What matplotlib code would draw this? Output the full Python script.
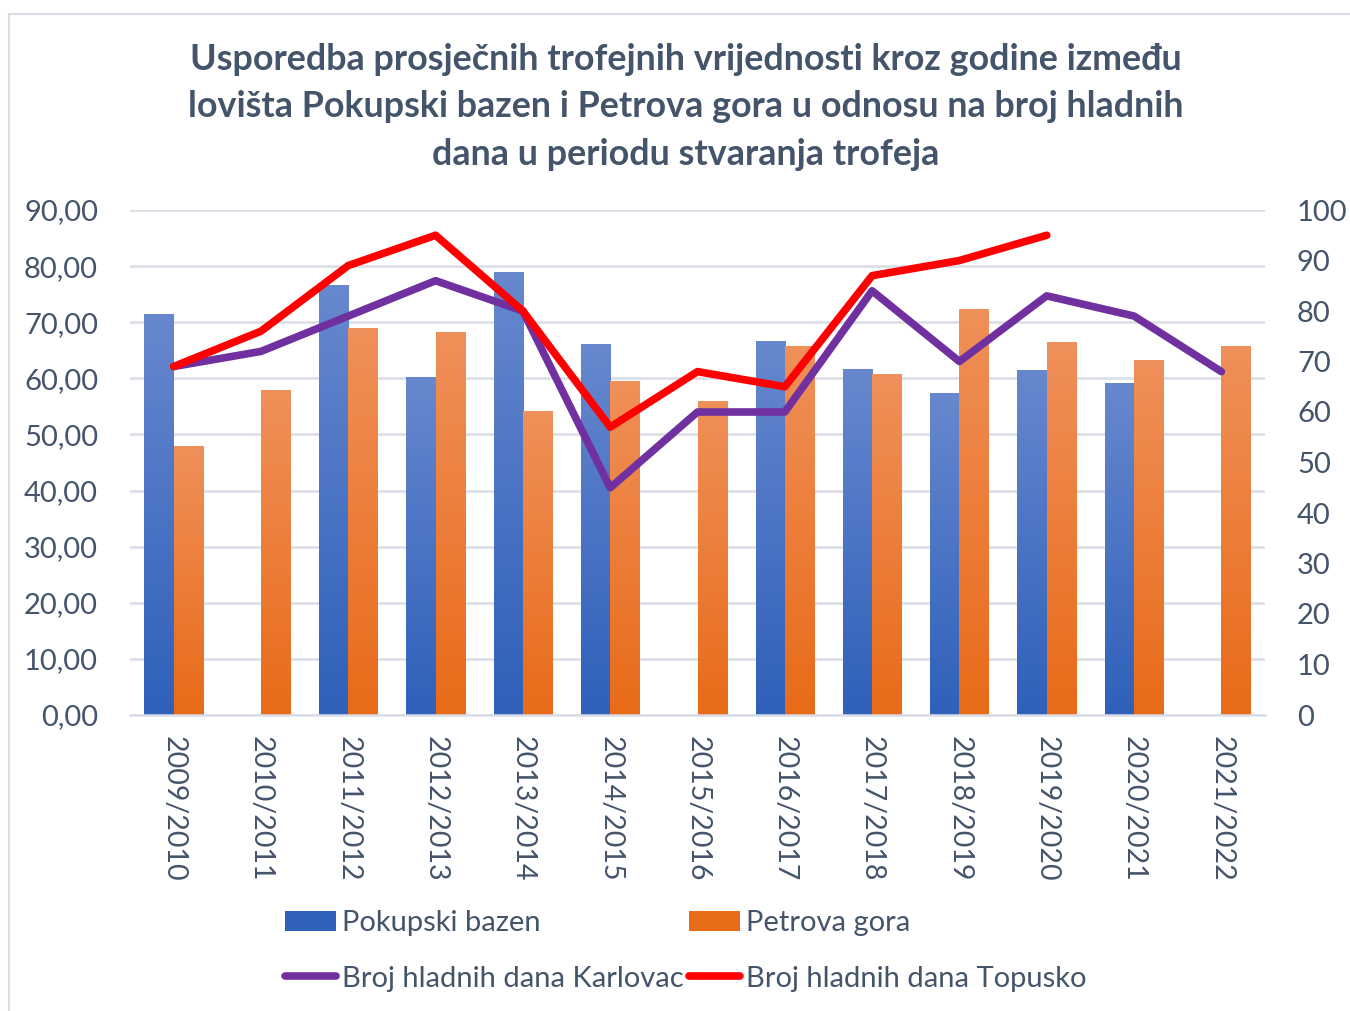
import numpy as np
import matplotlib
matplotlib.use("Agg")
import matplotlib.pyplot as plt
from matplotlib.lines import Line2D
from matplotlib.patches import Rectangle, Patch
from matplotlib.ticker import FuncFormatter

plt.rcParams['font.family'] = ['Lato', 'DejaVu Sans']

# data
seasons = ["2009/2010", "2010/2011", "2011/2012", "2012/2013", "2013/2014",
           "2014/2015", "2015/2016", "2016/2017", "2017/2018", "2018/2019",
           "2019/2020", "2020/2021", "2021/2022"]
pokupski = [71.4, np.nan, 76.7, 60.3, 78.9, 66.2, np.nan, 66.7, 61.7, 57.3, 61.5, 59.2, np.nan]
petrova = [48.0, 58.0, 69.0, 68.3, 54.2, 59.6, 56.0, 65.7, 60.8, 72.4, 66.4, 63.2, 65.7]
karlovac = [69, 72, 79, 86, 80, 45, 60, 60, 84, 70, 83, 79, 68]
topusko = [69, 76, 89, 95, 80, 57, 68, 65, 87, 90, 95, np.nan, np.nan]

title = ("Usporedba prosječnih trofejnih vrijednosti kroz godine između\n"
         "lovišta Pokupski bazen i Petrova gora u odnosu na broj hladnih\n"
         "dana u periodu stvaranja trofeja")

text_col = "#44546A"
blue_top, blue_bot = "#6788CE", "#2F60BA"
orange_top, orange_bot = "#F0905A", "#E86B18"

fig = plt.figure(figsize=(13.5, 10.11), dpi=100)
ax = fig.add_axes([130 / 1350, 1 - 715 / 1011, 1135 / 1350, 505 / 1011])
ax2 = ax.twinx()

x = np.arange(len(seasons))
w = 0.335


def gradient_bars(bars, c_top, c_bot):
    cmap = matplotlib.colors.LinearSegmentedColormap.from_list("g", [c_bot, c_top])
    grad = np.linspace(0, 1, 256).reshape(-1, 1)
    for b in bars:
        h = b.get_height()
        if not np.isfinite(h) or h <= 0:
            continue
        x0 = b.get_x()
        im = ax.imshow(grad, cmap=cmap, origin="lower", aspect="auto",
                       extent=[x0, x0 + b.get_width(), 0, h], zorder=2)
        im.set_clip_path(b)
        b.set_facecolor("none")


b1 = ax.bar(x - w / 2, pokupski, w, color=blue_bot, linewidth=0, zorder=2)
b2 = ax.bar(x + w / 2, petrova, w, color=orange_bot, linewidth=0, zorder=2)
gradient_bars(b1, blue_top, blue_bot)
gradient_bars(b2, orange_top, orange_bot)

ax2.plot(x, karlovac, color="#7030A0", lw=5.5, solid_capstyle="round", solid_joinstyle="round", zorder=3)
ax2.plot(x, topusko, color="#FF0000", lw=5.5, solid_capstyle="round", solid_joinstyle="round", zorder=4)

ax.set_xlim(-0.5, len(seasons) - 0.5)
ax.set_ylim(0, 90)
ax.set_yticks(np.arange(0, 91, 10))
ax.yaxis.set_major_formatter(FuncFormatter(lambda v, p: f"{v:.2f}".replace(".", ",")))
ax2.set_ylim(0, 100)
ax2.set_yticks(np.arange(0, 101, 10))

ax.grid(axis="y", color="#D9DDE6", lw=1.8, zorder=0)
ax.set_axisbelow(True)
for a in (ax, ax2):
    for s in a.spines.values():
        s.set_visible(False)
ax.spines["bottom"].set_visible(True)
ax.spines["bottom"].set_color("#D9DDE6")
ax.spines["bottom"].set_linewidth(1.8)

ax.set_xticks(x)
ax.set_xticklabels(seasons, rotation=-90, fontsize=20.5, color=text_col, va="top")
ax.tick_params(axis="x", length=0, pad=15)
ax.tick_params(axis="y", length=0, labelsize=21, labelcolor=text_col, pad=23)
ax2.tick_params(axis="y", length=0, labelsize=21, labelcolor=text_col, pad=23)

fig.text(0.508, 1 - 43 / 1011, title, ha="center", va="top", fontsize=25.8,
         fontweight="bold", color=text_col, linespacing=1.53)

handles = [Patch(facecolor=blue_bot, edgecolor="none"),
           Line2D([], [], color="#7030A0", lw=5.5, solid_capstyle="round"),
           Patch(facecolor=orange_bot, edgecolor="none"),
           Line2D([], [], color="#FF0000", lw=5.5, solid_capstyle="round")]
labels = ["Pokupski bazen", "Broj hladnih dana Karlovac", "Petrova gora", "Broj hladnih dana Topusko"]
fig.legend(handles, labels, loc="center", bbox_to_anchor=(0.508, 1 - 951 / 1011), ncol=2,
           frameon=False, fontsize=21, labelcolor=text_col, handlelength=1.75,
           handletextpad=0.2, columnspacing=0.2, labelspacing=1.0)

fig.patches.append(Rectangle((9 / 1350, -0.01), 1.1, 1 - 14 / 1011 + 0.01, transform=fig.transFigure,
                             fill=False, edgecolor="#D9DDE6", lw=1.5))

fig.savefig("out.png", dpi=100)
